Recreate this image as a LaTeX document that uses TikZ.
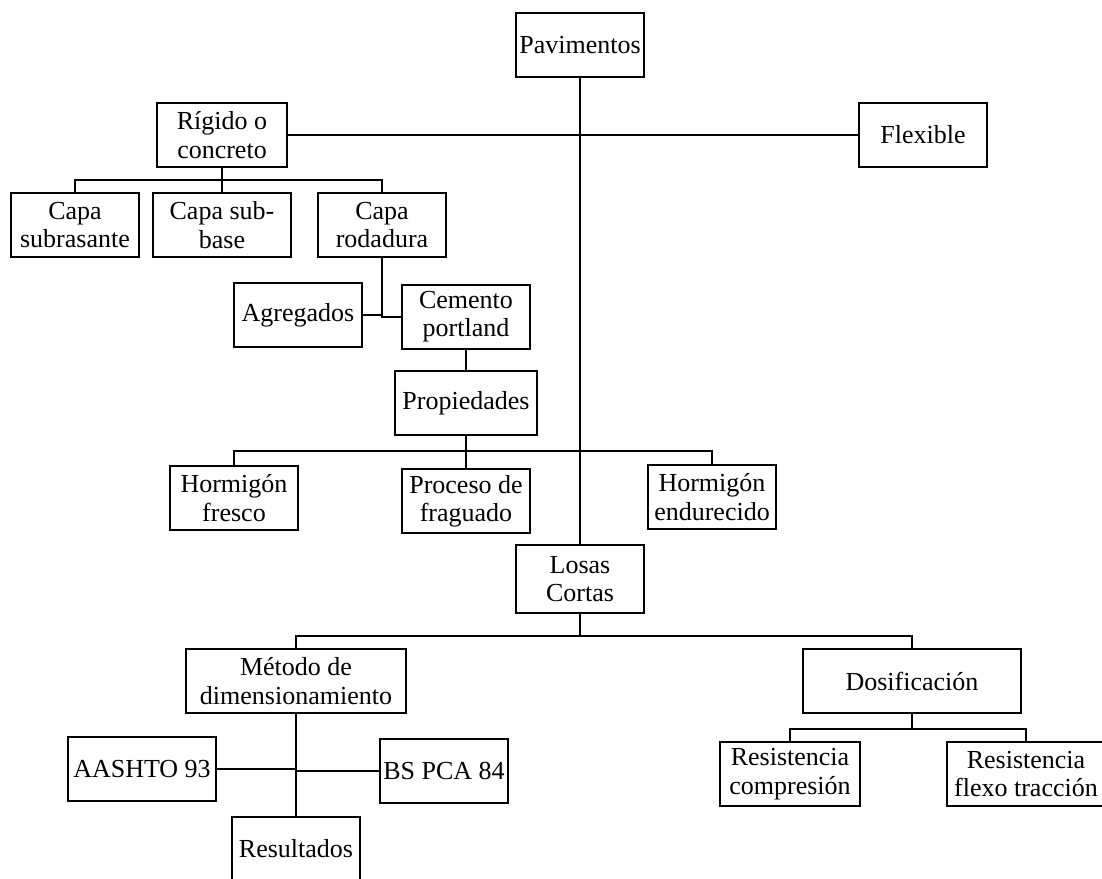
\documentclass[tikz,border=0pt]{standalone}
\usepackage{fontspec}
\setmainfont{Liberation Serif}
\begin{document}
\begin{tikzpicture}[x=1pt,y=-1pt,
  box/.style={draw, line width=2pt, align=center, inner sep=0pt,
    font=\fontsize{26}{28.3}\selectfont},
  link/.style={line width=2pt}]
\clip (0,0) rectangle (1102,878);

% boxes
\node[box, minimum width=128pt, minimum height=64pt] (pav)     at (580,45)  {Pavimentos};
\node[box, minimum width=130pt, minimum height=64pt] (rig)     at (222,135) {Rígido o\\concreto};
\node[box, minimum width=128pt, minimum height=64pt] (flex)    at (923,135) {Flexible};
\node[box, minimum width=128pt, minimum height=64pt] (sub)     at (75,225)  {Capa\\subrasante};
\node[box, minimum width=138pt, minimum height=64pt] (subbase) at (222,225) {Capa sub-\\base};
\node[box, minimum width=128pt, minimum height=64pt] (rod)     at (382,225) {Capa\\rodadura};
\node[box, minimum width=128pt, minimum height=64pt] (agr)     at (298,315) {Agregados};
\node[box, minimum width=128pt, minimum height=64pt] (cem)     at (466,317) {Cemento\\portland};
\node[box, minimum width=142pt, minimum height=64pt] (prop)    at (466,403) {Propiedades};
\node[box, minimum width=128pt, minimum height=64pt] (hf)      at (234,498) {Hormigón\\fresco};
\node[box, minimum width=128pt, minimum height=64pt] (proc)    at (466,501) {Proceso de\\fraguado};
\node[box, minimum width=128pt, minimum height=64pt] (he)      at (712,497) {Hormigón\\endurecido};
\node[box, minimum width=128pt, minimum height=68pt] (losas)   at (580,579) {Losas\\Cortas};
\node[box, minimum width=220pt, minimum height=64pt] (met)     at (296,681) {Método de\\dimensionamiento};
\node[box, minimum width=218pt, minimum height=64pt] (dos)     at (912,681) {Dosificación};
\node[box, minimum width=148pt, minimum height=64pt] (aash)    at (142,769) {AASHTO 93};
\node[box, minimum width=128pt, minimum height=64pt] (bs)      at (444,771) {BS PCA 84};
\node[box, minimum width=128pt, minimum height=64pt] (res)     at (296,849) {Resultados};
\node[box, minimum width=140pt, minimum height=64pt] (rc)      at (790,774) {Resistencia\\compresión};
\node[box, minimum width=158pt, minimum height=64pt] (rft)     at (1026,774){Resistencia\\flexo tracción};

% bus junctions
\coordinate (busA) at (222,180);
\coordinate (busB) at (466,451);
\coordinate (busC) at (580,636);
\coordinate (busD) at (912,729);

% connectors
\draw[link] (pav.south) -- (losas.north);
\draw[link] (rig.east) -- (rig.east -| flex.west);
\draw[link] (rig.south) -- (subbase.north);
\draw[link] (sub.north) |- (busA) -| (rod.north);
\draw[link] (rod.south) |- (cem.west);
\draw[link] (agr.east) -- (agr.east -| rod.south);
\draw[link] (cem.south) -- (prop.north);
\draw[link] (prop.south) -- (proc.north);
\draw[link] (hf.north) |- (busB) -| (he.north);
\draw[link] (losas.south) -- (busC);
\draw[link] (met.north) |- (busC) -| (dos.north);
\draw[link] (met.south) -- (res.north);
\draw[link] (aash.east) -- (aash.east -| met.south);
\draw[link] (bs.west) -- (bs.west -| met.south);
\draw[link] (dos.south) -- (busD);
\draw[link] (rc.north) |- (busD) -| (rft.north);
\end{tikzpicture}
\end{document}
